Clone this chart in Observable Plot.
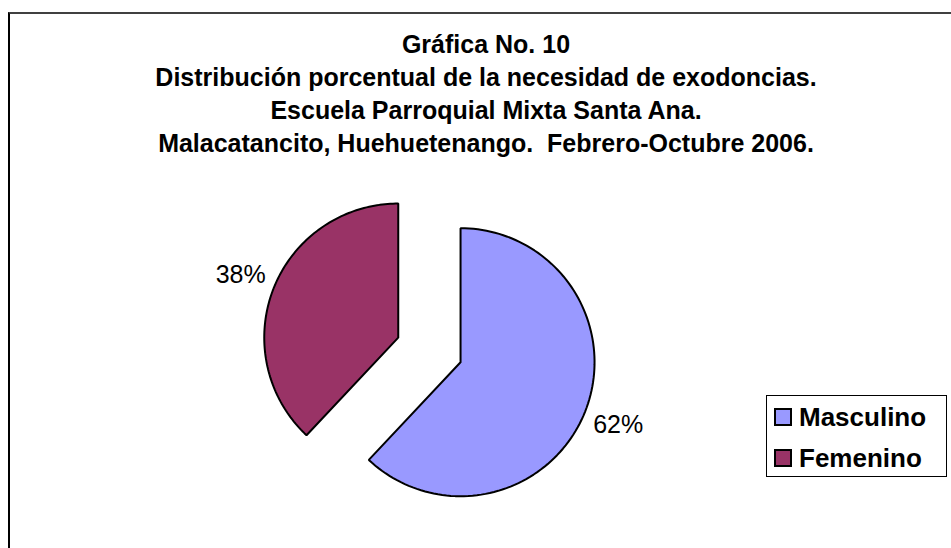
<!DOCTYPE html>
<html>
<head>
<meta charset="utf-8">
<script src="https://cdn.jsdelivr.net/npm/d3@7"></script>
<script src="https://cdn.jsdelivr.net/npm/@observablehq/plot@0.6"></script>
<style>
  html, body { margin: 0; padding: 0; background: #fff; overflow: hidden; }
  #wrap { position: relative; width: 951px; height: 548px; font-family: "Liberation Sans", Arial, sans-serif; }
  #frame { position: absolute; left: 8px; top: 12px; width: 960px; height: 560px; border-top: 2px solid #404040; border-left: 2px solid #000; box-sizing: border-box; }
  #title { position: absolute; left: 86px; top: 28px; width: 800px; text-align: center; font-weight: bold; font-size: 25px; line-height: 33px; color: #000; white-space: nowrap; }
  #chart { position: absolute; left: 0; top: 0; }
  #legend { position: absolute; left: 766px; top: 395px; width: 181px; height: 82px; border: 1.5px solid #000; box-sizing: border-box; background: #fff; }
  .item { position: absolute; left: 7px; height: 30px; display: flex; align-items: center; font-weight: bold; font-size: 26px; }
  .sw { width: 18px; height: 18px; border: 2px solid #000; box-sizing: border-box; margin-right: 7px; }
</style>
</head>
<body>
<div id="wrap">
  <div id="frame"></div>
  <div id="chart"></div>
  <div id="title"></div>
  <div id="legend"></div>
</div>
<script>
const titleLines = [
  "Gráfica No. 10",
  "Distribución porcentual de la necesidad de exodoncias.",
  "Escuela Parroquial Mixta Santa Ana.",
  "Malacatancito, Huehuetenango.  Febrero-Octubre 2006."
];
const categories = ["Masculino", "Femenino"];
const values = [62, 38];
const colors = ["#9999FF", "#993366"];

const W = 951, H = 548;
const cx = 428.9, cy = 349.4, R = 134;   // pie centre and radius in pixels
const explode = 0.25;                     // explosion as fraction of radius
const labelR = 1.265;                     // label distance in radii

const arcs = d3.pie().sort(null).value(d => d.value)(categories.map((c, i) => ({cat: c, value: values[i], color: colors[i]})));

const slices = arcs.map(a => {
  const m = (a.startAngle + a.endAngle) / 2;
  const ox = explode * Math.sin(m), oy = explode * Math.cos(m);
  const pts = [{x: ox, y: oy}];
  const n = 120;
  for (let k = 0; k <= n; k++) {
    const t = a.startAngle + (a.endAngle - a.startAngle) * k / n;
    pts.push({x: ox + Math.sin(t), y: oy + Math.cos(t)});
  }
  pts.push({x: ox, y: oy});
  return {cat: a.data.cat, color: a.data.color, pts,
          label: {x: ox + labelR * Math.sin(m), y: oy + labelR * Math.cos(m),
                  text: Math.round(100 * a.data.value / d3.sum(values)) + "%"}};
});

const plot = Plot.plot({
  width: W, height: H,
  marginTop: 0, marginRight: 0, marginBottom: 0, marginLeft: 0,
  x: {domain: [-cx / R, (W - cx) / R], axis: null},
  y: {domain: [(cy - H) / R, cy / R], axis: null},
  marks: [
    ...slices.map(s => Plot.line(s.pts, {x: "x", y: "y", fill: s.color, stroke: "#000", strokeWidth: 2, strokeLinejoin: "miter"})),
    Plot.text(slices.map(s => s.label), {x: "x", y: "y", text: "text", fontSize: 25, fill: "#000", fontFamily: "Liberation Sans, Arial, sans-serif"})
  ]
});
document.getElementById("chart").appendChild(plot);

document.getElementById("title").innerHTML = titleLines.map(l => `<div>${l.replace(/  /g, "&nbsp; ")}</div>`).join("");

const legend = document.getElementById("legend");
categories.forEach((c, i) => {
  const it = document.createElement("div");
  it.className = "item";
  it.style.top = (i === 0 ? 6 : 47) + "px";
  it.innerHTML = `<div class="sw" style="background:${colors[i]}"></div><span>${c}</span>`;
  legend.appendChild(it);
});
</script>
</body>
</html>
